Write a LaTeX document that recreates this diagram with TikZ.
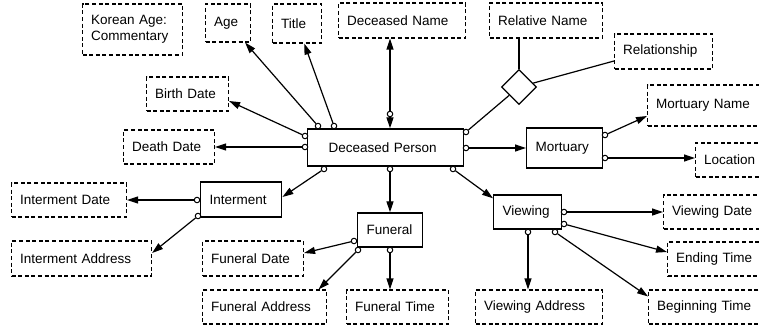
\documentclass[tikz,border=0pt]{standalone}
\usepackage{fontspec}
\setmainfont{Liberation Sans}
\usetikzlibrary{arrows.meta,shapes.geometric}
\tikzset{
  attr/.style={draw, line width=1.1pt, dash pattern=on 4pt off 2.6pt, inner xsep=8.5pt, inner ysep=0pt, align=left, anchor=west, font=\fontsize{13.5}{16}\selectfont, minimum height=34pt},
  ent/.style={draw, line width=1.4pt, inner xsep=9pt, inner ysep=0pt, align=left, anchor=west, font=\fontsize{13.5}{16}\selectfont, minimum height=34pt},
  oc/.style={circle, draw, fill=white, line width=1pt, inner sep=0pt, minimum size=5.5pt},
  conn/.style={line width=1.2pt},
  arr/.style={conn, -{Triangle[length=11pt,width=7pt]}},
}
\begin{document}
\begin{tikzpicture}[x=1pt,y=-1pt]
\useasboundingbox (0,0) rectangle (759,329);
% attributes and entities
\node[attr, text width=83pt, minimum height=51pt] (kac) at (82,29.5) {Korean Age:\\Commentary};
\node[attr, text width=28pt, minimum height=38pt] (age) at (205,23) {Age};
\node[attr, text width=32pt, minimum height=39pt] (title) at (272,23.5) {Title};
\node[attr, text width=110pt, minimum height=35pt] (dname) at (338,20.5) {Deceased Name};
\node[attr, text width=96pt, minimum height=35pt] (rname) at (489,20.5) {Relative Name};
\node[attr, text width=81pt, minimum height=35pt] (rel) at (614,51.5) {Relationship};
\node[diamond, draw, fill=white, line width=1.2pt, minimum size=35pt, inner sep=0pt] (rd) at (519,87) {};
\node[attr, text width=65pt] (bd) at (146,94) {Birth Date};
\node[attr, text width=74pt] (dd) at (123,147) {Death Date};
\node[ent, inner xsep=21pt, text width=114pt, minimum height=37pt] (dp) at (307,147.5) {Deceased Person};
\node[ent, text width=58pt, minimum height=40pt] (mort) at (526,148) {Mortuary};
\node[attr, text width=111pt, minimum height=41pt] (mname) at (647,105.5) {Mortuary Name};
\node[attr, text width=63pt] (loc) at (695,160) {Location};
\node[ent, text width=63pt, minimum height=35pt] (intm) at (200,199.5) {Interment};
\node[attr, text width=98pt] (intd) at (11,200) {Interment Date};
\node[attr, text width=123pt, minimum height=35pt] (inta) at (11,258.5) {Interment Address};
\node[ent, text width=47pt] (fun) at (357,230) {Funeral};
\node[attr, text width=84pt, minimum height=35pt] (fund) at (202,258.5) {Funeral Date};
\node[attr, text width=107pt] (funa) at (202,307) {Funeral Address};
\node[attr, text width=85pt] (funt) at (346,307) {Funeral Time};
\node[ent, text width=50pt] (view) at (493,212) {Viewing};
\node[attr, text width=110pt] (viewa) at (475,307) {Viewing Address};
\node[attr, text width=95pt] (viewd) at (663,212) {Viewing Date};
\node[attr, text width=91pt] (endt) at (667,259) {Ending Time};
\node[attr, text width=110pt] (begt) at (648,307) {Beginning Time};
% optional-end circles
\node[oc] (o1) at (318,126) {};
\node[oc] (o2) at (334,126) {};
\node[oc] (o3) at (305,136) {};
\node[oc] (o4) at (305,147) {};
\node[oc] (o5) at (390,114) {};
\node[oc] (o6) at (466,132) {};
\node[oc] (o7) at (466,148) {};
\node[oc] (o8) at (605,135) {};
\node[oc] (o9) at (605,158) {};
\node[oc] (o10) at (324,169) {};
\node[oc] (o11) at (197,200) {};
\node[oc] (o12) at (198,216) {};
\node[oc] (o13) at (390,169) {};
\node[oc] (o14) at (453,169) {};
\node[oc] (o15) at (354,241) {};
\node[oc] (o16) at (358,250) {};
\node[oc] (o17) at (390,250) {};
\node[oc] (o18) at (564,212) {};
\node[oc] (o19) at (564,224) {};
\node[oc] (o20) at (528,232) {};
\node[oc] (o21) at (555,232) {};
% connectors
\draw[arr] (o1) -- (age);
\draw[arr] (o2) -- (title);
\draw[arr] (o3) -- ([yshift=-7pt]bd.east);
\draw[arr] (o4) -- (o4 -| dd.east);
\draw[arr] (o5) -- (o5 |- dname.south);
\draw[arr] (o5) -- (o5 |- dp.north);
\draw[conn] (o6) -- (rd);
\draw[conn] (rd.north) -- (rd.north |- rname.south);
\draw[conn] (rd) -- ([yshift=-9.5pt]rel.west);
\draw[arr] (o7) -- (o7 -| mort.west);
\draw[arr] (o8) -- ([yshift=-10.5pt]mname.west);
\draw[arr] (o9) -- (o9 -| loc.west);
\draw[arr] (o10) -- ([yshift=2.5pt]intm.east);
\draw[arr] (o11) -- (o11 -| intd.east);
\draw[arr] (o12) -- ([yshift=5.5pt]inta.east);
\draw[arr] (o13) -- (o13 |- fun.north);
\draw[arr] (o14) -- ([yshift=-4pt]view.north west);
\draw[arr] (o15) -- ([yshift=5.5pt]fund.east);
\draw[arr] (o16) -- ([xshift=54pt]funa.north);
\draw[arr] (o17) -- (o17 |- funt.north);
\draw[arr] (o18) -- (o18 -| viewd.west);
\draw[arr] (o19) -- ([yshift=7pt]endt.west);
\draw[arr] (o20) -- (o20 |- viewa.north);
\draw[arr] (o21) -- ([yshift=-7pt]begt.north west);
\end{tikzpicture}
\end{document}
